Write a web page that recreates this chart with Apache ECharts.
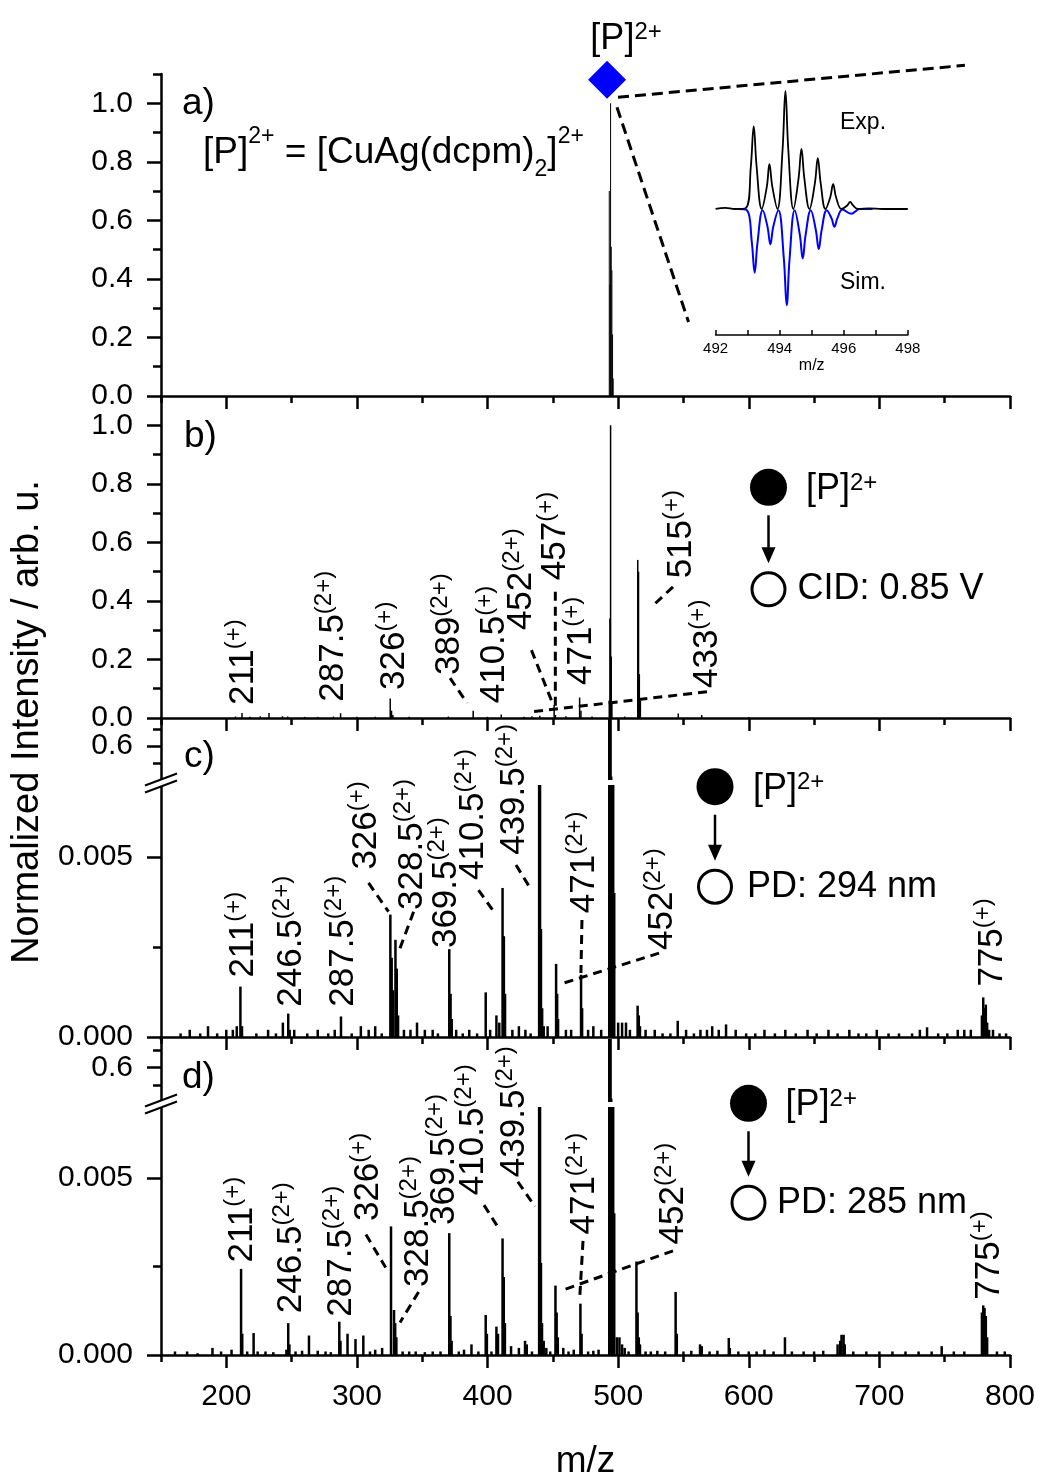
<!DOCTYPE html>
<html>
<head>
<meta charset="utf-8">
<script src="https://cdn.jsdelivr.net/npm/echarts@6/dist/echarts.min.js"></script>
<style>
  html, body { margin: 0; padding: 0; background: #fff; }
  #main { width: 1040px; height: 1481px; }
</style>
</head>
<body>
<div id="main"></div>
<script>
var ink = '#000';
var font = 'Liberation Sans, Arial, sans-serif';

// --- tick positions ---
var xMajorTicks = [200, 300, 400, 500, 600, 700, 800];
var xMinorTicks = [150, 250, 350, 450, 550, 650, 750];
var yTicksAB = [0, 0.2, 0.4, 0.6, 0.8, 1.0];
var yMinorAB = [0.1, 0.3, 0.5, 0.7, 0.9, 1.1];
var yTicksUp = [0.6];
var yMinorUp = [0.55, 0.65];
var yTicksLow = [0, 0.005];
var yMinorLow = [0.0025];

// --- spectra: [m/z, normalized intensity] ---
var peaksA = [[493.2, 0.70], [493.7, 0.38], [494.2, 1.0], [494.7, 0.51], [495.2, 0.43], [495.7, 0.21], [496.2, 0.06]];
var precursorMark = [[491.5, 1.08]];

var peaksB = [[207, 0.005], [212, 0.017], [218, 0.004], [226, 0.006], [232.7, 0.017], [243, 0.006], [247, 0.005],
  [260, 0.004], [270, 0.004], [282, 0.005], [287.5, 0.016], [300, 0.004], [314, 0.004], [325.5, 0.067],
  [326.5, 0.025], [327.5, 0.01], [340, 0.004], [370, 0.005], [389, 0.025], [400, 0.004], [410.5, 0.012],
  [428, 0.004], [434, 0.006], [440, 0.008], [451, 0.044], [452, 0.01], [460, 0.006], [470.5, 0.07],
  [471.5, 0.025], [480, 0.005], [493.2, 0.06], [493.7, 0.34], [494.2, 1.0], [494.7, 0.21], [495.2, 0.05],
  [505, 0.005], [515, 0.54], [515.6, 0.50], [516.2, 0.15], [517, 0.06], [546, 0.015], [564, 0.01], [600, 0.003]];

var peaksC = [[210.8, 0.0014], [212, 0.0003], [243.3, 0.0004], [247.4, 0.00065], [248.5, 0.0002], [287.8, 0.00057],
  [325.6, 0.0034], [326.6, 0.0022], [327.6, 0.0013], [329.5, 0.0027], [330.5, 0.0019], [331.5, 0.0006],
  [346, 0.0004], [370.7, 0.00244], [371.7, 0.0012], [372.6, 0.0005], [398.6, 0.00124], [406.8, 0.0006],
  [409, 0.0004], [411.5, 0.00414], [412.5, 0.0028], [413.4, 0.0012], [439.5, 0.0078], [440.2, 0.0074],
  [440.9, 0.003], [441.8, 0.0008], [443, 0.0003], [452.5, 0.00203], [453.3, 0.0012], [454, 0.0005],
  [471.6, 0.00173], [472.4, 0.0008], [493.2, 0.70], [493.7, 0.38], [494.2, 1.0], [494.7, 0.51], [495.2, 0.43],
  [495.7, 0.21], [496.2, 0.06], [497, 0.004], [500, 0.0004], [503, 0.0004], [514.9, 0.00087], [515.8, 0.0006],
  [516.7, 0.0003], [545.6, 0.00045], [582.6, 0.00035], [736.5, 0.00027], [778.5, 0.0006], [779.5, 0.0011],
  [780.5, 0.0008], [781.5, 0.0009], [782.5, 0.0004], [784, 0.0002]];
var noiseC = [[165, 0.0001], [172, 0.0002], [180, 0.0001], [186, 0.0003], [193, 0.0001], [200, 0.0002], [205, 0.0002],
  [208, 0.0003], [223, 0.0001], [232, 0.0002], [238, 0.0001], [252, 0.0002], [262, 0.0001], [270, 0.0002],
  [278, 0.0001], [283, 0.0002], [296, 0.0001], [303, 0.0003], [309, 0.0002], [314, 0.0003], [319, 0.0001],
  [336, 0.0002], [341, 0.0002], [352, 0.0002], [358, 0.0002], [362, 0.0001], [376, 0.0002], [381, 0.0001],
  [386, 0.0002], [392, 0.0001], [402, 0.0002], [419, 0.0002], [424, 0.0003], [429, 0.0002], [433, 0.0001],
  [446, 0.0003], [460, 0.0002], [464, 0.0002], [477, 0.0002], [481, 0.0003], [487, 0.0002], [506, 0.0004],
  [509, 0.0002], [521, 0.0002], [528, 0.0002], [534, 0.0001], [540, 0.0001], [552, 0.0002], [558, 0.0001],
  [563, 0.0002], [568, 0.0002], [572, 0.0003], [577, 0.0002], [590, 0.0002], [598, 0.0001], [605, 0.0001],
  [612, 0.0002], [620, 0.0001], [628, 0.0002], [636, 0.0001], [645, 0.0002], [652, 0.0001], [661, 0.0002],
  [668, 0.0001], [677, 0.0002], [684, 0.0001], [690, 0.0001], [698, 0.0002], [707, 0.0001], [715, 0.0001],
  [725, 0.0001], [731, 0.0002], [745, 0.0001], [752, 0.0001], [760, 0.0002], [765, 0.0002], [770, 0.0002],
  [787, 0.0002], [792, 0.0001], [797, 0.0001]];

var peaksD = [[160.7, 0.0001], [189.4, 0.0002], [204, 0.00015], [211.3, 0.00243], [212.2, 0.0006], [220.9, 0.00062],
  [224, 0.0001], [246, 0.00015], [247.4, 0.0009], [248.3, 0.0003], [258, 0.00012], [263.3, 0.00055], [270, 0.00012],
  [286.5, 0.00094], [287.4, 0.0004], [292.8, 0.0006], [298.9, 0.00045], [304.9, 0.00055], [319.3, 0.0002],
  [326.1, 0.00363], [328.4, 0.00127], [329.3, 0.0009], [330.2, 0.0005], [340, 0.0001], [370.7, 0.00344],
  [371.6, 0.0011], [372.5, 0.0004], [387.7, 0.0003], [398.6, 0.00113], [399.5, 0.0006], [406.8, 0.0008],
  [408, 0.0006], [411.5, 0.00329], [412.4, 0.0022], [413.3, 0.0009], [418, 0.00025], [424, 0.0002],
  [428.7, 0.0004], [430, 0.0003], [439.5, 0.0078], [440.2, 0.0074], [440.9, 0.0026], [441.7, 0.0009],
  [443, 0.0004], [445, 0.0002], [452, 0.00196], [452.9, 0.0012], [453.8, 0.0005], [458, 0.0002],
  [471.1, 0.00145], [472, 0.0006], [485, 0.00015], [493.2, 0.70], [493.7, 0.38], [494.2, 1.0], [494.7, 0.51],
  [495.2, 0.43], [495.7, 0.21], [496.2, 0.06], [497, 0.004], [499, 0.0005], [501, 0.0005], [503, 0.0003],
  [505, 0.0002], [514, 0.00264], [514.9, 0.0012], [515.8, 0.0005], [516.7, 0.0003], [521, 0.0001],
  [544, 0.00178], [544.9, 0.0006], [562.7, 0.0003], [564, 0.00025], [584.7, 0.00048], [585.5, 0.0002],
  [600, 0.0001], [619, 0.0001], [627.7, 0.0005], [642, 0.0001], [668, 0.0003], [670, 0.0004], [671, 0.00057],
  [672.6, 0.00057], [673.5, 0.0003], [710, 0.0001], [747.7, 0.00025], [778.5, 0.0012], [779.5, 0.0014],
  [780.5, 0.00133], [781.5, 0.0011], [782.5, 0.0005]];
var noiseD = [[170, 0.0001], [178, 0.00005], [196, 0.0001], [216, 0.0001], [230, 0.0001], [236, 0.00008], [253, 0.0001],
  [276, 0.0001], [280, 0.00008], [310, 0.0001], [314, 0.00015], [335, 0.0001], [345, 0.0001], [352, 0.00008],
  [358, 0.0001], [364, 0.0001], [378, 0.0001], [382, 0.00015], [393, 0.0001], [403, 0.0001], [434, 0.0001],
  [448, 0.0001], [462, 0.0001], [466, 0.00015], [477, 0.0001], [481, 0.00012], [508, 0.0001], [525, 0.0001],
  [530, 0.00012], [536, 0.0001], [550, 0.0001], [556, 0.00012], [570, 0.0001], [576, 0.00012], [592, 0.0001],
  [606, 0.0001], [612, 0.00015], [633, 0.0001], [650, 0.0001], [657, 0.00012], [680, 0.0001], [690, 0.0001],
  [700, 0.0001], [720, 0.0001], [730, 0.0001], [740, 0.0001], [757, 0.0001], [765, 0.0001], [790, 0.0001],
  [796, 0.0001]];

var insetExp = [[492.0, 0], [492.3, 0.01], [492.6, 0], [492.95, 0.01], [493.1, 0.36], [493.19, 0.70], [493.28, 0.36],
  [493.44, 0], [493.6, 0.19], [493.68, 0.38], [493.77, 0.19], [493.93, 0], [494.09, 0.5], [494.18, 1.0],
  [494.27, 0.5], [494.43, 0], [494.59, 0.26], [494.68, 0.51], [494.77, 0.26], [494.93, 0], [495.1, 0.22],
  [495.19, 0.43], [495.28, 0.22], [495.43, 0], [495.58, 0.1], [495.67, 0.21], [495.76, 0.1], [495.93, 0],
  [496.11, 0.03], [496.2, 0.06], [496.29, 0.03], [496.45, 0], [496.8, 0.005], [497.2, 0], [498, 0]];
var insetSim = [[492.7, 0], [492.98, -0.01], [493.13, -0.28], [493.22, -0.54], [493.31, -0.28], [493.47, -0.01],
  [493.62, -0.15], [493.71, -0.30], [493.8, -0.15], [493.96, -0.01], [494.13, -0.42], [494.22, -0.815],
  [494.31, -0.42], [494.47, -0.01], [494.63, -0.22], [494.72, -0.42], [494.81, -0.22], [494.97, -0.01],
  [495.13, -0.18], [495.22, -0.34], [495.31, -0.18], [495.47, -0.01], [495.62, -0.08], [495.71, -0.15],
  [495.8, -0.08], [495.96, -0.005], [496.23, -0.04], [496.5, 0], [496.9, 0]];

// --- peak labels: [value, charge, m/z anchor, intensity anchor] ---
var labelsB = [['211', '(+)', 213.2, 0.0444], ['287.5', '(2+)', 281.6, 0.0556], ['326', '(+)', 328.8, 0.0956],
  ['389', '(2+)', 370.4, 0.1468], ['410.5', '(+)', 405.4, 0.0502], ['452', '(2+)', 425.9, 0.3003],
  ['457', '(+)', 451.9, 0.471], ['471', '(+)', 471.6, 0.1126], ['515', '(+)', 548.1, 0.477], ['433', '(+)', 568, 0.1024]];
var labelsC = [['211', '(+)', 212.7, 0.00165], ['246.5', '(2+)', 249.5, 0.00084], ['287.5', '(2+)', 289.3, 0.00084],
  ['326', '(+)', 306.9, 0.00465], ['328.5', '(2+)', 342.5, 0.00353], ['369.5', '(2+)', 368.5, 0.00247],
  ['410.5', '(2+)', 388.9, 0.00436], ['439.5', '(2+)', 420.2, 0.00506], ['471', '(2+)', 474.1, 0.00344],
  ['452', '(2+)', 533.9, 0.00242], ['775', '(+)', 786.5, 0.0014]];
var labelsD = [['211', '(+)', 212, 0.00261], ['246.5', '(2+)', 249.5, 0.00118], ['287.5', '(2+)', 287.8, 0.00108],
  ['326', '(+)', 308.4, 0.00378], ['328.5', '(2+)', 346.7, 0.00192], ['369.5', '(2+)', 367.1, 0.00367],
  ['410.5', '(2+)', 389, 0.00451], ['439.5', '(2+)', 420.5, 0.00502], ['471', '(2+)', 474.3, 0.0034],
  ['452', '(2+)', 542, 0.00312], ['775', '(+)', 783.9, 0.00156]];

// dashed leader lines: [m/z1, y1, m/z2, y2]
var leadersA = [[499.9, 1.0205, 765.5, 1.1297], [499.1, 0.9863, 553.9, 0.2526]];
var leadersB = [[371.3, 0.1365, 384.3, 0.0512], [433.6, 0.232, 450.6, 0.041], [451.9, 0.431, 451.9, 0.0386],
  [542, 0.448, 527.1, 0.386], [568, 0.0898, 434, 0.0215]];
var leadersC = [[308.9, 0.00428, 324.2, 0.00348], [343.4, 0.00348, 331.6, 0.00233], [393.1, 0.00408, 405.4, 0.00345],
  [421.8, 0.00478, 433.6, 0.00408], [472.3, 0.00325, 471.5, 0.00178], [531.3, 0.00233, 458.5, 0.0015]];
var leadersD = [[306.9, 0.0034, 322, 0.00247], [347.2, 0.00178, 333, 0.00092], [397.3, 0.00423, 408.8, 0.00356],
  [423.2, 0.00489, 436.3, 0.00419], [473.1, 0.00322, 470.5, 0.00156], [542, 0.00294, 457.4, 0.00183]];

var chart = echarts.init(document.getElementById('main'));

function xMajor(grid, labels) {
  return {
    type: 'value', gridIndex: grid, min: 150, max: 800, position: 'bottom',
    axisLine: { show: true, onZero: false, lineStyle: { color: ink, width: 2.5 } },
    axisTick: { show: true, length: 13, customValues: xMajorTicks, lineStyle: { color: ink, width: 2.5 } },
    axisLabel: { show: labels, customValues: xMajorTicks, fontSize: 30, margin: 27, color: ink, fontFamily: font },
    splitLine: { show: false }
  };
}
function xMinor(grid) {
  return {
    type: 'value', gridIndex: grid, min: 150, max: 800, position: 'bottom',
    axisLine: { show: false, onZero: false },
    axisTick: { show: true, length: 7, customValues: xMinorTicks, lineStyle: { color: ink, width: 2.5 } },
    axisLabel: { show: false }, splitLine: { show: false }
  };
}
function xHidden(grid) {
  return { type: 'value', gridIndex: grid, min: 150, max: 800, show: false, splitLine: { show: false } };
}
function yMajor(grid, min, max, ticks, digits) {
  return {
    type: 'value', gridIndex: grid, min: min, max: max, position: 'left',
    axisLine: { show: true, onZero: false, lineStyle: { color: ink, width: 2.5 } },
    axisTick: { show: true, length: 14, customValues: ticks, lineStyle: { color: ink, width: 2.5 } },
    axisLabel: {
      show: true, customValues: ticks, fontSize: 30, margin: 28, color: ink, fontFamily: font,
      formatter: function (v) { return v.toFixed(digits); }
    },
    splitLine: { show: false }
  };
}
function yMinor(grid, min, max, ticks) {
  return {
    type: 'value', gridIndex: grid, min: min, max: max, position: 'left',
    axisLine: { show: false, onZero: false },
    axisTick: { show: true, length: 8, customValues: ticks, lineStyle: { color: ink, width: 2.5 } },
    axisLabel: { show: false }, splitLine: { show: false }
  };
}
function sticks(x, y, data, w) {
  return {
    type: 'bar', xAxisIndex: x, yAxisIndex: y, data: data, barWidth: w, clip: true,
    itemStyle: { color: ink }, silent: true
  };
}

var upMax = 0.683;
var xInset = {
  type: 'value', gridIndex: 6, min: 492, max: 498, interval: 1, position: 'bottom',
  axisLine: { show: true, onZero: false, lineStyle: { color: ink, width: 1.5 } },
  axisTick: { show: true, inside: true, length: 5, lineStyle: { color: ink, width: 1.5 } },
  axisLabel: {
    fontSize: 15, margin: 6, color: ink, fontFamily: font,
    formatter: function (v) { return v % 2 === 0 ? String(v) : ''; }
  },
  name: 'm/z', nameLocation: 'middle', nameGap: 23,
  nameTextStyle: { fontSize: 16, color: ink, fontFamily: font },
  splitLine: { show: false }
};

var xAxes = [xMajor(0, false), xMinor(0), xMajor(1, false), xMinor(1), xHidden(2), xMajor(3, false), xMinor(3),
  xHidden(4), xMajor(5, true), xMinor(5), xInset];
xAxes[8].name = 'm/z';
xAxes[8].nameLocation = 'middle';
xAxes[8].nameGap = 88;
xAxes[8].nameTextStyle = { fontSize: 37, color: ink, fontFamily: font };

var yAxes = [yMajor(0, 0, 1.1, yTicksAB, 1), yMinor(0, 0, 1.1, yMinorAB),
  yMajor(1, 0, 1.1, yTicksAB, 1), yMinor(1, 0, 1.1, yMinorAB),
  yMajor(2, 0.5, upMax, yTicksUp, 1), yMinor(2, 0.5, upMax, yMinorUp),
  yMajor(3, 0, 0.007, yTicksLow, 3), yMinor(3, 0, 0.007, yMinorLow),
  yMajor(4, 0.5, upMax, yTicksUp, 1), yMinor(4, 0.5, upMax, yMinorUp),
  yMajor(5, 0, 0.007, yTicksLow, 3), yMinor(5, 0, 0.007, yMinorLow),
  { type: 'value', gridIndex: 6, min: -1.068, max: 1.0, show: false, splitLine: { show: false } }];

var allC = peaksC.concat(noiseC);
var allD = peaksD.concat(noiseD);

chart.setOption({
  animation: false,
  backgroundColor: '#fff',
  textStyle: { fontFamily: font },
  grid: [
    { left: 161, width: 849, top: 74, height: 322 },
    { left: 161, width: 849, top: 396, height: 322 },
    { left: 161, width: 849, top: 718, height: 62 },
    { left: 161, width: 849, top: 785, height: 252 },
    { left: 161, width: 849, top: 1039, height: 63 },
    { left: 161, width: 849, top: 1107, height: 252 },
    { left: 715.6, width: 192.2, top: 91, height: 244 }
  ],
  xAxis: xAxes,
  yAxis: yAxes,
  series: [
    sticks(0, 0, peaksA, 1),
    {
      type: 'scatter', xAxisIndex: 0, yAxisIndex: 0, data: precursorMark,
      symbol: 'diamond', symbolSize: 38, itemStyle: { color: '#0000ff', opacity: 1 }, silent: true,
      label: {
        show: true, position: 'top', distance: 4, offset: [19, 0],
        formatter: '{m|[P]}{s|2+}',
        rich: {
          m: { fontSize: 36, lineHeight: 36, color: ink, fontFamily: font, verticalAlign: 'middle' },
          s: { fontSize: 24, lineHeight: 18, color: ink, fontFamily: font, verticalAlign: 'top' }
        }
      }
    },
    sticks(2, 2, peaksB, 1.5),
    sticks(4, 4, allC, 2.5),
    sticks(5, 6, allC, 2.5),
    sticks(7, 8, allD, 2.5),
    sticks(8, 10, allD, 2.5),
    {
      type: 'line', xAxisIndex: 10, yAxisIndex: 12, data: insetSim, smooth: 0.4, symbol: 'none',
      lineStyle: { color: '#0000ff', width: 2 }, silent: true
    },
    {
      type: 'line', xAxisIndex: 10, yAxisIndex: 12, data: insetExp, smooth: 0.4, symbol: 'none',
      lineStyle: { color: ink, width: 1.8 }, silent: true
    }
  ]
});

// ---- annotations placed through the axes ----
function pt(xi, yi, x, y) { return chart.convertToPixel({ xAxisIndex: xi, yAxisIndex: yi }, [x, y]); }

var richPeak = {
  m: { fontSize: 35, lineHeight: 42, fontFamily: font, fill: ink, verticalAlign: 'middle' },
  s: { fontSize: 24, lineHeight: 20, fontFamily: font, fill: ink, verticalAlign: 'top' }
};
var richP = {
  m: { fontSize: 36, lineHeight: 36, fontFamily: font, fill: ink, verticalAlign: 'middle' },
  s: { fontSize: 24, lineHeight: 20, fontFamily: font, fill: ink, verticalAlign: 'top' }
};
var richF = {
  m: { fontSize: 37, lineHeight: 56, fontFamily: font, fill: ink, verticalAlign: 'middle' },
  s: { fontSize: 23, lineHeight: 24, fontFamily: font, fill: ink, verticalAlign: 'top' },
  b: { fontSize: 23, lineHeight: 27, fontFamily: font, fill: ink, verticalAlign: 'bottom' }
};

var g = [];
function addLabels(list, xi, yi) {
  list.forEach(function (l) {
    var p = pt(xi, yi, l[2], l[3]);
    g.push({
      type: 'text', x: p[0], y: p[1], rotation: Math.PI / 2, z: 100, silent: true,
      style: { text: '{m|' + l[0] + '}{s|' + l[1] + '}', rich: richPeak, align: 'left', verticalAlign: 'middle', fill: ink }
    });
  });
}
function addLeaders(list, xi, yi, w, dash) {
  list.forEach(function (l) {
    var a = pt(xi, yi, l[0], l[1]);
    var b = pt(xi, yi, l[2], l[3]);
    g.push({
      type: 'line', z: 100, silent: true,
      shape: { x1: a[0], y1: a[1], x2: b[0], y2: b[1] },
      style: { stroke: ink, lineWidth: w, lineDash: dash }
    });
  });
}
addLeaders(leadersA, 0, 0, 3, [11, 6]);
addLabels(labelsB, 2, 2); addLeaders(leadersB, 2, 2, 3, [9, 6]);
addLabels(labelsC, 5, 6); addLeaders(leadersC, 5, 6, 3, [9, 6]);
addLabels(labelsD, 8, 10); addLeaders(leadersD, 8, 10, 3, [9, 6]);

function text(x, y, str, size, extra) {
  var st = { text: str, fontSize: size, fontFamily: font, fill: ink, align: 'left', verticalAlign: 'middle' };
  for (var k in extra) st[k] = extra[k];
  return { type: 'text', x: x, y: y, z: 100, silent: true, style: st };
}
// panel letters and formula
g.push(text(182, 104, 'a)', 37));
g.push(text(184, 437, 'b)', 37));
g.push(text(184, 757, 'c)', 37));
g.push(text(182, 1078, 'd)', 37));
g.push(text(203, 153, '{m|[P]}{s|2+}{m| = [CuAg(dcpm)}{b|2}{m|]}{s|2+}', 37, { rich: richF }));
g.push(text(840, 123, 'Exp.', 23));
g.push(text(840, 283, 'Sim.', 23));

// legends: precursor -> product
function legend(cx, cTop, cBot, pLabelX, actX, actText) {
  g.push({ type: 'circle', z: 100, silent: true, shape: { cx: cx, cy: cTop, r: 18.5 }, style: { fill: ink } });
  g.push(text(pLabelX, cTop + 2, '{m|[P]}{s|2+}', 36, { rich: richP }));
  g.push({ type: 'line', z: 100, silent: true, shape: { x1: cx, y1: cTop + 28, x2: cx, y2: cBot - 40 },
    style: { stroke: ink, lineWidth: 2.5 } });
  g.push({ type: 'polygon', z: 100, silent: true,
    shape: { points: [[cx - 7, cBot - 42], [cx + 7, cBot - 42], [cx, cBot - 26]] }, style: { fill: ink } });
  g.push({ type: 'circle', z: 100, silent: true, shape: { cx: cx, cy: cBot, r: 16.5 },
    style: { fill: '#fff', stroke: ink, lineWidth: 3 } });
  g.push(text(actX, cBot, actText, 36));
}
legend(768.5, 487.3, 589.3, 806, 797.5, 'CID: 0.85 V');
legend(715, 786.7, 886.7, 753, 747, 'PD: 294 nm');
legend(748.5, 1103.3, 1202.7, 785.6, 777, 'PD: 285 nm');

// axis breaks
[783.5, 1104.5].forEach(function (yc) {
  g.push({ type: 'polygon', z: 110, silent: true,
    shape: { points: [[145, yc + 2], [177, yc - 10], [177, yc - 3], [145, yc + 9]] }, style: { fill: '#fff' } });
  g.push({ type: 'line', z: 111, silent: true, shape: { x1: 145, y1: yc + 2, x2: 177, y2: yc - 10 },
    style: { stroke: ink, lineWidth: 2 } });
  g.push({ type: 'line', z: 111, silent: true, shape: { x1: 145, y1: yc + 9, x2: 177, y2: yc - 3 },
    style: { stroke: ink, lineWidth: 2 } });
});
g.push({ type: 'line', z: 100, silent: true, shape: { x1: 161, y1: 1036, x2: 161, y2: 1040 },
  style: { stroke: ink, lineWidth: 2.5 } });

// y-axis title
g.push({ type: 'text', x: 28, y: 722, rotation: Math.PI / 2, z: 100, silent: true,
  style: { text: 'Normalized Intensity / arb. u.', fontSize: 38, fontFamily: font, fill: ink,
    align: 'center', verticalAlign: 'middle' } });

chart.setOption({ graphic: g });
</script>
</body>
</html>
